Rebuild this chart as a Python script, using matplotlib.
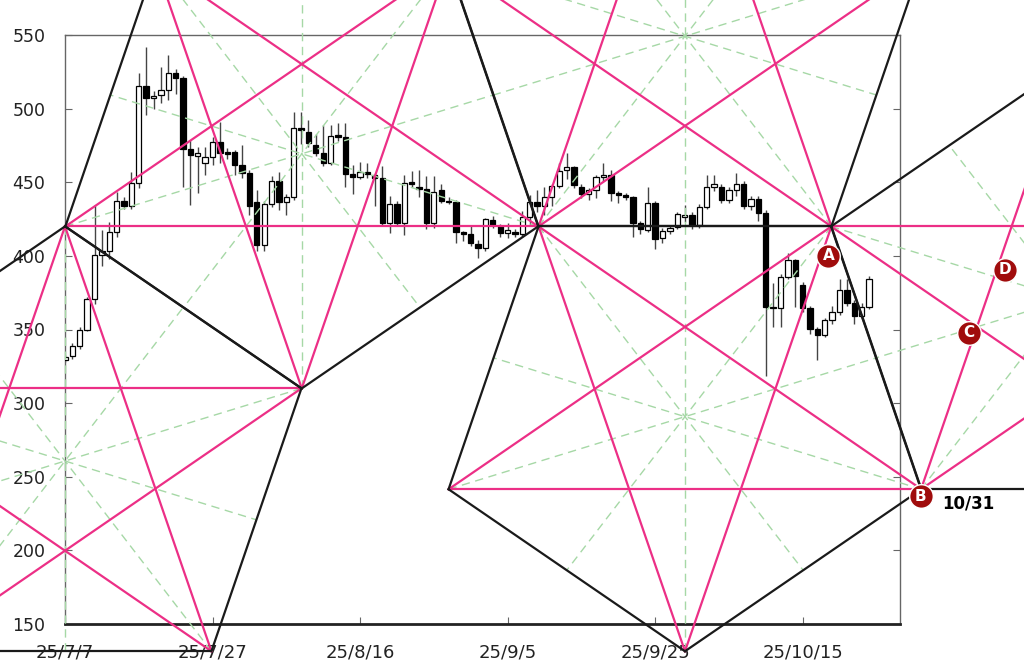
import numpy as np
import matplotlib
matplotlib.use("Agg")
import matplotlib.pyplot as plt

# candles: day index from 25/7/7
days = np.arange(0, 110)
opens = [329, 331.7, 338.5, 349.8, 370.6, 400.7, 403, 416.5, 437.3, 434.2,
         449.3, 515.4, 507, 509.3, 512.7, 524, 520.6, 472.4, 468.1, 463.4,
         467, 477.6, 470.8, 470.8, 461.8, 456.1, 436.9, 407.5, 435.3, 451.1,
         436.9, 440.3, 486.7, 484.4, 475.3, 470.1, 463.4, 482.2, 481, 455.7,
         453.9, 457.3, 455, 452.7, 422.2, 435.3, 422.6, 450.5, 447.1, 445.5,
         422.6, 444.4, 437.6, 436.4, 415.9, 415, 408.2, 405.2, 424.5, 420,
         415.4, 415.9, 415, 426.3, 436.9, 434.2, 439.8, 447.7, 458.4, 460.2,
         447.1, 442.1, 444.4, 453.4, 455, 442.5, 441.4, 440.3, 422.6, 417.7,
         435.8, 412, 417.2, 419.5, 426.7, 427.8, 421, 433.5, 446.6, 446.6,
         438, 444.4, 448.9, 433.9, 438.9, 429.4, 365.6, 364.5, 385.5, 396.9,
         380.3, 364.5, 350.3, 346.4, 356.6, 361.6, 376.5, 367.9, 359.3, 365.6]
highs = [333, 341, 352, 372, 434.6, 417.6, 423.3, 443.7, 440, 457.3,
         524, 541.6, 512, 528.5, 536.4, 527, 522, 478.7, 474, 474,
         481, 491.2, 473, 472, 475.3, 458, 444.8, 437, 454.3, 457.3,
         442, 498, 498, 492, 483, 489, 489, 490, 490, 462,
         464, 463, 456, 461, 441, 437, 454.9, 457.9, 458, 454,
         454, 449, 440, 438, 417, 420, 411, 426, 427, 421.5,
         422, 418.5, 430.8, 441.4, 444.4, 446.6, 449, 462.9, 469.7, 461,
         449, 446, 455, 462.9, 458, 444, 443, 441, 424, 446.6,
         437, 419, 421, 430, 434.6, 430, 435, 455, 455, 449,
         447, 456.2, 451, 441, 441, 431, 381.3, 388, 401.9, 398,
         382, 366, 352, 358, 366, 384.2, 384, 370, 368, 386]
lows = [328, 330, 337, 349, 367, 392.8, 398, 413, 432, 432,
        446, 495.7, 500, 503.6, 505.9, 510, 447, 434.6, 443, 455,
        462, 463, 466, 455, 453, 428, 403, 403, 433, 431,
        428, 438, 476, 474, 468, 461, 462, 478, 447, 442,
        452, 453, 434, 420, 415.5, 421, 414, 447, 440, 418,
        419, 436, 435, 408.6, 410, 407, 398.4, 403, 419, 413,
        412, 413, 413, 421, 430, 428, 434, 446, 452, 446,
        439, 438, 439, 451, 437, 436, 438, 413, 415, 416,
        404.6, 409, 415, 418, 423, 418, 419, 432, 444, 436,
        436, 441, 432, 431, 424, 318.1, 352, 352, 384, 365,
        362, 347, 329.4, 345, 354, 360, 366, 354, 357, 364]
closes = [331, 338.5, 349.8, 370.6, 400.7, 403.6, 416.5, 437.3, 434.2, 449.3,
          515.4, 507, 508.8, 512.7, 524, 521, 472.4, 468.6, 469.7, 467.4,
          477.6, 469.7, 469.2, 461.8, 456.1, 433.9, 407.5, 435.3, 451.1, 436.9,
          440.3, 486.7, 485.5, 476.5, 470.1, 463.4, 481.5, 481, 455.7, 453.9,
          457.3, 455.7, 452.7, 422.2, 435.3, 422.6, 449.3, 448.9, 445.3, 422.6,
          443.7, 437.6, 436.4, 415.9, 415, 408.6, 405.2, 424.9, 421, 415.4,
          417.7, 415, 426.3, 436.9, 434.2, 439.8, 447.7, 457.9, 460.2, 448.2,
          442.1, 444.4, 453.4, 455, 442.5, 441.4, 440.3, 422.6, 418.1, 435.8,
          411.3, 417.2, 418.8, 428.5, 427.8, 421, 433.5, 446.6, 448.9, 438,
          444.4, 448.9, 433.9, 438.9, 429.4, 365.2, 364.5, 385.5, 396.9, 386.4,
          364.5, 350.3, 346.4, 356.6, 361.6, 376.5, 367.9, 358.9, 365.6, 384.2]

# pentagons: tip point (day, price) and whether the tip points up (+1) or down (-1)
pent_x = [0, 32.1, 84.05, 84.05, 135.9]
pent_tip = [420, 310, 131.5, 708.5, 530]
pent_dir = [1, -1, -1, 1, 1]
side_dx, side_dy = 32.05, 110.0
base_dx, base_dy = 19.85, 288.5

# marked points
mark_names = ["A", "B", "C", "D"]
mark_x = [103.5, 116.0, 122.5, 127.4]
mark_y = [400.0, 236.8, 347.7, 390.6]

xtick_pos = [0, 20, 40, 60, 80, 100]
xtick_labels = ["25/7/7", "25/7/27", "25/8/16", "25/9/5", "25/9/25", "25/10/15"]

PINK = "#ec2f86"
GREEN = "#a6d8a6"
RED = "#a00c0c"

fig = plt.figure(figsize=(10.24, 6.65), dpi=100)
ax = fig.add_axes([65 / 1024, 1 - 624 / 665, 835 / 1024, 589 / 665])
ax.set_xlim(0, 113.2)
ax.set_ylim(150, 550)

# candles
o = np.array(opens); c = np.array(closes)
up = c >= o
ax.vlines(days, lows, highs, color="#444444", lw=1, zorder=2)
bottom = np.minimum(o, c)
height = np.maximum(np.abs(c - o), 0.6)
ax.bar(days[up], height[up], bottom=bottom[up], width=0.72,
       facecolor="white", edgecolor="black", lw=0.9, zorder=3)
ax.bar(days[~up], height[~up], bottom=bottom[~up], width=0.72,
       facecolor="black", edgecolor="black", lw=0.9, zorder=3)


def pentagon(cx, ty, d):
    return [(cx, ty),
            (cx + side_dx, ty - d * side_dy),
            (cx + base_dx, ty - d * base_dy),
            (cx - base_dx, ty - d * base_dy),
            (cx - side_dx, ty - d * side_dy)]


for cx, ty, d in zip(pent_x, pent_tip, pent_dir):
    v = pentagon(cx, ty, d)
    for i in range(5):
        # spoke: vertex to middle of opposite edge
        a = v[(i + 2) % 5]; b = v[(i + 3) % 5]
        mx, my = (a[0] + b[0]) / 2, (a[1] + b[1]) / 2
        ax.plot([v[i][0], mx], [v[i][1], my], color=GREEN, lw=1,
                ls=(0, (6, 4)), clip_on=False, zorder=4)
for cx, ty, d in zip(pent_x, pent_tip, pent_dir):
    v = pentagon(cx, ty, d)
    for i in range(5):
        a = v[i]; b = v[(i + 2) % 5]
        ax.plot([a[0], b[0]], [a[1], b[1]], color=PINK, lw=1.6,
                clip_on=False, zorder=5)
for cx, ty, d in zip(pent_x, pent_tip, pent_dir):
    v = pentagon(cx, ty, d)
    for i in range(5):
        a = v[i]; b = v[(i + 1) % 5]
        ax.plot([a[0], b[0]], [a[1], b[1]], color="#1a1a1a", lw=1.6,
                clip_on=False, zorder=6)

for name, mx, my in zip(mark_names, mark_x, mark_y):
    ax.plot(mx, my, "o", ms=17, mfc=RED, mec="white", mew=1,
            clip_on=False, zorder=8)
    ax.text(mx, my, name, color="white", fontsize=11, fontweight="bold",
            ha="center", va="center", zorder=9, clip_on=False)
ax.text(mark_x[1] + 2.9, mark_y[1] - 5, "10/31", fontsize=12, fontweight="bold",
        ha="left", va="center", zorder=9)

ax.set_xticks(xtick_pos)
ax.set_xticklabels(xtick_labels, family=["Liberation Sans Narrow", "DejaVu Sans"],
                   fontsize=13, color="#222222")
ax.set_yticks(range(150, 551, 50))
for lab in ax.get_yticklabels():
    lab.set_fontsize(12.5)
    lab.set_color("#222222")
ax.tick_params(axis="x", direction="in", length=5, pad=14, color="#666666")
ax.tick_params(axis="y", direction="in", length=5, pad=14, right=True,
               color="#666666")
for s in ["top", "left", "right"]:
    ax.spines[s].set_color("#666666")
    ax.spines[s].set_linewidth(1)
ax.spines["bottom"].set_color("#222222")
ax.spines["bottom"].set_linewidth(2)

fig.savefig("out.png", dpi=100)
